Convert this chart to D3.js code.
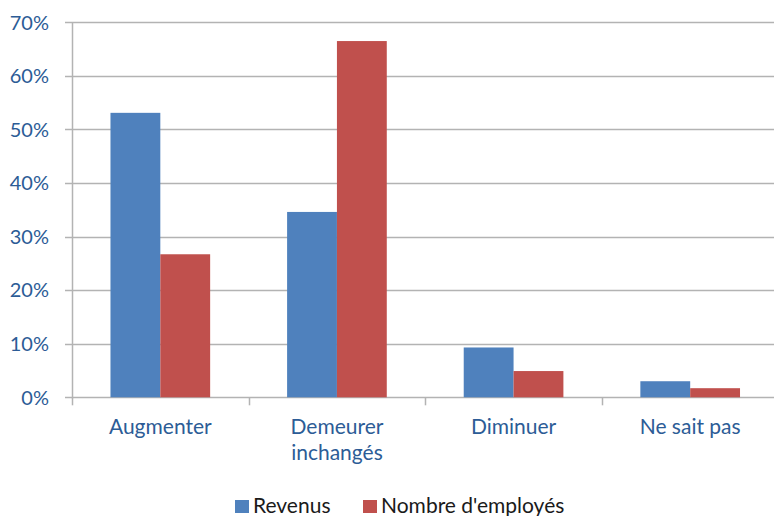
<!DOCTYPE html>
<html>
<head>
<meta charset="utf-8">
<script src="https://cdn.jsdelivr.net/npm/d3@7"></script>
<style>
  body { margin: 0; background: #fff; }
  svg { display: block; font-family: Lato, "Open Sans", sans-serif; }
</style>
</head>
<body>
<div id="chart"></div>
<script>
// chart data
var categories = [["Augmenter"], ["Demeurer", "inchangés"], ["Diminuer"], ["Ne sait pas"]];
var seriesNames = ["Revenus", "Nombre d'employés"];
var revenus = [0.531, 0.346, 0.093, 0.030];
var employes = [0.267, 0.665, 0.049, 0.017];
var yTicks = [0, 0.1, 0.2, 0.3, 0.4, 0.5, 0.6, 0.7];
var colors = ["#4F81BD", "#C0504D"];

(function() {
  var width = 774,
      height = 516;
  var left = 72, right = 778.5, top = 22.3, bottom = 397.3;

  var svg = d3.select("#chart")
    .append("svg")
    .attr("width", width)
    .attr("height", height);

  var catKeys = categories.map(function(c) { return c.join(" "); });

  var x0 = d3.scaleBand().domain(catKeys).range([left, right]).padding(0);
  var x1 = d3.scaleBand().domain(seriesNames).range([0, x0.bandwidth()])
    .paddingInner(0).paddingOuter(0.772);
  var y = d3.scaleLinear().domain([0, 0.7]).range([bottom, top]);

  //gridlines
  svg.append("g")
    .selectAll("line")
    .data(yTicks)
    .enter().append("line")
    .attr("x1", left - 7)
    .attr("x2", width)
    .attr("y1", function(d) { return Math.round(y(d)) + 0.5; })
    .attr("y2", function(d) { return Math.round(y(d)) + 0.5; })
    .attr("stroke", "#B3B3B3")
    .attr("stroke-width", 1.5);

  //y axis line
  svg.append("line")
    .attr("x1", left + 0.5).attr("x2", left + 0.5)
    .attr("y1", top).attr("y2", bottom + 1)
    .attr("stroke", "#B3B3B3")
    .attr("stroke-width", 1.5);

  //y labels
  svg.append("g")
    .selectAll("text")
    .data(yTicks)
    .enter().append("text")
    .attr("x", 49)
    .attr("y", function(d) { return y(d); })
    .attr("dy", "0.36em")
    .attr("text-anchor", "end")
    .attr("fill", "#2C5C96")
    .style("font-size", "20px")
    .text(function(d) { return d3.format(".0%")(d); });

  //category ticks
  svg.append("g")
    .selectAll("line")
    .data(d3.range(catKeys.length + 1))
    .enter().append("line")
    .attr("x1", function(i) { return Math.round(left + i * x0.step()) + 0.5; })
    .attr("x2", function(i) { return Math.round(left + i * x0.step()) + 0.5; })
    .attr("y1", bottom)
    .attr("y2", bottom + 8)
    .attr("stroke", "#B3B3B3")
    .attr("stroke-width", 1.5);

  //bars
  var groups = svg.selectAll(".group")
    .data(catKeys)
    .enter().append("g")
    .attr("class", "group")
    .attr("transform", function(d) { return "translate(" + x0(d) + ",0)"; });

  groups.selectAll("rect")
    .data(function(d, i) {
      return [
        { series: seriesNames[0], value: revenus[i], color: colors[0] },
        { series: seriesNames[1], value: employes[i], color: colors[1] }
      ];
    })
    .enter().append("rect")
    .attr("x", function(d) { return x1(d.series); })
    .attr("width", x1.bandwidth())
    .attr("y", function(d) { return y(d.value); })
    .attr("height", function(d) { return y(0) - y(d.value); })
    .attr("fill", function(d) { return d.color; });

  //category labels
  svg.append("g")
    .selectAll("text")
    .data(categories)
    .enter().append("text")
    .attr("x", function(d) { return x0(d.join(" ")) + x0.bandwidth() / 2; })
    .attr("y", 434)
    .attr("text-anchor", "middle")
    .attr("fill", "#2C5C96")
    .style("font-size", "21px")
    .each(function(d) {
      var t = d3.select(this);
      d.forEach(function(line, j) {
        t.append("tspan")
          .attr("x", t.attr("x"))
          .attr("dy", j === 0 ? 0 : 26)
          .text(line);
      });
    });

  //legend
  var legendX = [235, 363];
  var legend = svg.selectAll(".legend")
    .data(seriesNames)
    .enter().append("g")
    .attr("class", "legend")
    .attr("transform", function(d, i) { return "translate(" + legendX[i] + ",500)"; });

  legend.append("rect")
    .attr("width", 14)
    .attr("height", 13)
    .attr("fill", function(d, i) { return colors[i]; });

  legend.append("text")
    .attr("x", 18)
    .attr("y", 13)
    .attr("fill", "#1a1a1a")
    .style("font-size", "21px")
    .text(function(d) { return d; });
})();
</script>
</body>
</html>
